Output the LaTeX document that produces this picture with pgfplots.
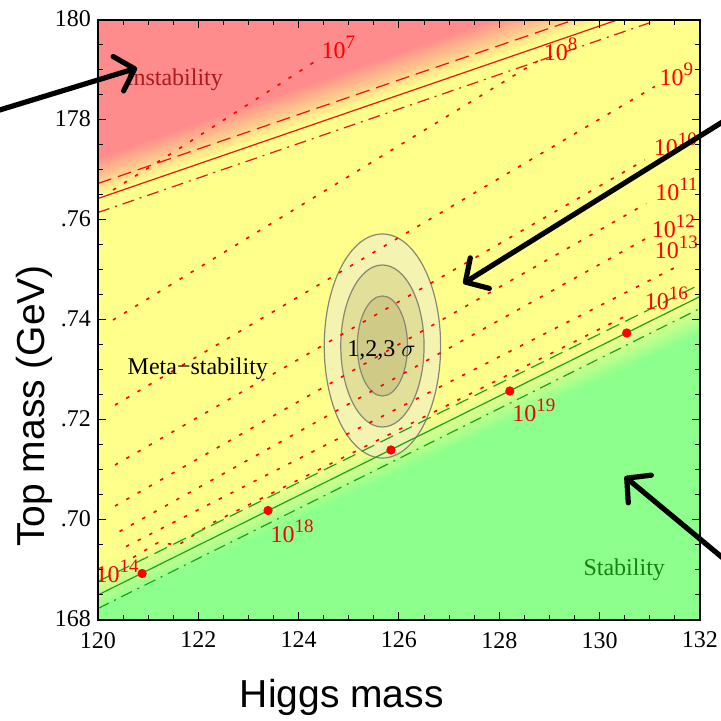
\documentclass[border=0pt]{standalone}
\usepackage{fontspec}
\setmainfont{Liberation Serif}
\newfontfamily\sansf{Liberation Sans}
\usepackage{pgfplots}
\pgfplotsset{compat=1.18}
\usetikzlibrary{arrows.meta}
\definecolor{dred}{RGB}{175,25,25}
\definecolor{dgreen}{RGB}{20,130,20}
\definecolor{lred}{RGB}{235,20,20}
\definecolor{lgreen}{RGB}{25,165,25}
\definecolor{ellline}{RGB}{135,135,115}
\newcommand{\ex}[1]{10\raisebox{0.42em}{\fontsize{9.5}{10}\selectfont #1}}
\begin{document}
\begin{tikzpicture}
\begin{axis}[
  scale only axis, width=301pt, height=300pt,
  xmin=120, xmax=132, ymin=168, ymax=180,
  xtick={120,122,124,126,128,130,132},
  ytick={168,170,172,174,176,178,180},
  yticklabels={168,.70,.72,.74,.76,178,180},
  minor x tick num=3, minor y tick num=3,
  tick align=inside, major tick length=4pt, minor tick length=2.5pt,
  tick style={black, line width=0.5pt},
  axis line style={line width=0.6pt},
  /pgf/number format/assume math mode=true,
  ticklabel style={font=\fontsize{12}{14}\selectfont},
  xticklabel style={yshift=-2.5pt},
  yticklabel style={yshift=0.8pt},
  clip mode=individual,
  axis on top,
  colormap={stab}{rgb255=(140,255,140) rgb255=(255,255,140) rgb255=(255,140,140)},
  point meta min=0, point meta max=2,
]
% background
\addplot[patch, shader=interp, point meta=explicit] table[meta=c] {
x y c
120 177.25 2
132 181.45 2
132 182 2
120 177.25 2
132 182 2
120 182 2
120 176.45 1
132 180.65 1
132 181.45 2
120 176.45 1
132 181.45 2
120 177.25 2
120 169.0 1
132 174.52 1
132 180.65 1
120 169.0 1
132 180.65 1
120 176.45 1
120 168.2 0
132 173.72 0
132 174.52 1
120 168.2 0
132 174.52 1
120 169.0 1
120 166 0
132 166 0
132 173.72 0
120 166 0
132 173.72 0
120 168.2 0
};
% ellipses
\fill[fill={rgb,255:red,240;green,238;blue,190}, fill opacity=0.7] (axis cs:125.67,173.48) ellipse [x radius=1.16, y radius=2.24];
\draw[ellline, line width=0.6pt] (axis cs:125.67,173.48) ellipse [x radius=1.16, y radius=2.24];
\fill[fill={rgb,255:red,200;green,195;blue,120}, fill opacity=0.4] (axis cs:125.67,173.48) ellipse [x radius=0.83, y radius=1.62];
\draw[ellline, line width=0.6pt] (axis cs:125.67,173.48) ellipse [x radius=0.83, y radius=1.62];
\fill[fill={rgb,255:red,180;green,175;blue,110}, fill opacity=0.4] (axis cs:125.67,173.48) ellipse [x radius=0.50, y radius=1.0];
\draw[ellline, line width=0.6pt] (axis cs:125.67,173.48) ellipse [x radius=0.50, y radius=1.0];
% dotted contours
\pgfplotsset{dotc/.style={red, line width=0.8pt, dash pattern=on 1.7pt off 4.8pt}}
\addplot[dotc] coordinates {(120.3,176.6) (121.73,177.5) (124.45,179.25)};
\addplot[dotc] coordinates {(120.3,174.0) (128.8,179.2)};
\addplot[dotc] coordinates {(120.34,172.3) (131.1,178.67)};
\addplot[dotc] coordinates {(120.34,171.1) (130.9,177.2)};
\addplot[dotc] coordinates {(120.34,170.28) (130.93,176.33)};
\addplot[dotc] coordinates {(120.43,169.77) (131.05,175.7)};
\addplot[dotc] coordinates {(120.56,169.47) (131.6,175.1)};
\addplot[dotc] coordinates {(120.7,169.25) (121.2,169.55) (121.6,169.5) (122.3,169.95) (130.5,174.07)};
% upper red lines
\addplot[lred, line width=0.6pt, dash pattern=on 7pt off 3.5pt] coordinates {(120,176.73) (132,180.87)};
\addplot[lred, line width=0.6pt] coordinates {(120,176.43) (132,180.57)};
\addplot[lred, line width=0.6pt, dash pattern=on 6pt off 3pt on 1pt off 3pt] coordinates {(120,176.15) (132,180.29)};
% green lines
\addplot[lgreen, line width=0.6pt, dash pattern=on 7pt off 3.5pt] coordinates {(120,168.77) (132,174.71)};
\addplot[lgreen, line width=0.6pt] coordinates {(120,168.5) (132,174.47)};
\addplot[lgreen, line width=0.6pt, dash pattern=on 6pt off 3pt on 1pt off 3pt] coordinates {(120,168.23) (132,174.23)};
% red dots
\addplot[only marks, mark=*, mark size=2.1pt, red] coordinates {(120.88,168.93) (123.39,170.19) (125.84,171.4) (128.21,172.58) (130.54,173.74)};
% labels
\begin{scope}[every node/.style={font=\fontsize{12}{14}\selectfont}]
\node[red] at (axis cs:124.79,179.45) {\ex{7}};
\node[red] at (axis cs:129.22,179.41) {\ex{8}};
\node[red] at (axis cs:131.53,178.92) {\ex{9}};
\node[red] at (axis cs:131.51,177.52) {\ex{10}};
\node[red] at (axis cs:131.53,176.61) {\ex{11}};
\node[red] at (axis cs:131.47,175.87) {\ex{12}};
\node[red] at (axis cs:131.53,175.45) {\ex{13}};
\node[red] at (axis cs:131.33,174.43) {\ex{16}};
\node[red] at (axis cs:120.38,168.98) {\ex{14}};
\node[red] at (axis cs:123.87,169.77) {\ex{18}};
\node[red] at (axis cs:128.69,172.2) {\ex{19}};
\node[dred] at (axis cs:121.52,178.8) {Instability};
\node[black] at (axis cs:121.99,173.02) {Meta−stability};
\node[dgreen] at (axis cs:130.49,169.0) {Stability};
\node[black] at (axis cs:125.65,173.4) {1,2,3 $\sigma$};
\end{scope}
% axis titles
\node[rotate=90, anchor=base, font=\fontsize{19.5}{22}\sansf] at (axis cs:118.944,172.28) {Top mass (GeV)};
\node[anchor=base, font=\fontsize{19.5}{22}\sansf] at (axis cs:124.86,166.26) {Higgs mass};
% arrows
\draw[line width=2.6pt, -{Straight Barb[length=8.5pt, width=18pt, round]}] (axis cs:117.65,178.08) -- (axis cs:120.78,179.04);
\draw[line width=2.6pt, -{Straight Barb[length=8.5pt, width=18pt, round]}] (axis cs:132.8,178.18) -- (axis cs:127.28,174.73);
\draw[line width=2.6pt, -{Straight Barb[length=8.5pt, width=18pt, round]}] (axis cs:132.9,168.87) -- (axis cs:130.5,170.87);
\coordinate (bbBL) at (axis cs:118.047,165.98);
\coordinate (bbTR) at (axis cs:132.418,180.4);
\end{axis}
\pgfresetboundingbox
\path[use as bounding box] (bbBL) rectangle (bbTR);
\end{tikzpicture}
\end{document}
